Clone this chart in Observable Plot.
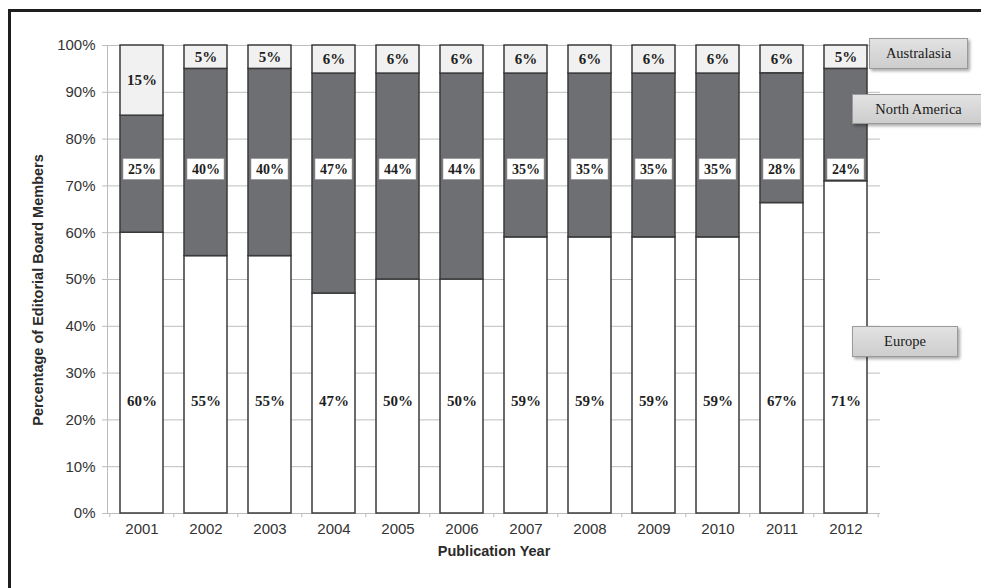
<!DOCTYPE html>
<html><head><meta charset="utf-8">
<script src="https://cdn.jsdelivr.net/npm/d3@7"></script>
<script src="https://cdn.jsdelivr.net/npm/@observablehq/plot@0.6"></script>
<style>
body{margin:0;background:#fff;}
#wrap{position:relative;width:981px;height:588px;overflow:hidden;background:#fff;}
#chart{position:absolute;left:0;top:0;}
.frame-top{position:absolute;left:8px;top:9px;width:990px;height:3px;background:#1e1e1e;}
.frame-left{position:absolute;left:8px;top:9px;width:3px;height:600px;background:#1e1e1e;}
.leg{position:absolute;box-sizing:border-box;border:1px solid #9a9a9a;background:linear-gradient(#e2e2e2,#cdcdcd);box-shadow:2px 2px 3px rgba(0,0,0,0.35);font-family:"Liberation Serif","Times New Roman",serif;font-size:14.5px;color:#1a1a1a;display:flex;align-items:center;justify-content:center;}
.ylab{position:absolute;left:38px;top:290px;transform:translate(-50%,-50%) rotate(-90deg);white-space:nowrap;font-family:"Liberation Sans",Arial,sans-serif;font-weight:bold;font-size:14.5px;color:#2a2a2a;}
</style>
</head><body>
<div id="wrap">
  <div id="chart"></div>
  <div class="frame-top"></div>
  <div class="frame-left"></div>
  <div class="ylab" id="ylab"></div>
  <div class="leg" style="left:869px;top:38px;width:99px;height:31px;">Australasia</div>
  <div class="leg" style="left:852px;top:94px;width:133px;height:30px;">North America</div>
  <div class="leg" style="left:852px;top:326px;width:106px;height:31px;">Europe</div>
</div>
<script>
const years = ["2001","2002","2003","2004","2005","2006","2007","2008","2009","2010","2011","2012"];
const europe = [60,55,55,47,50,50,59,59,59,59,67,71];
const northAmerica = [25,40,40,47,44,44,35,35,35,35,28,24];
const australasia = [15,5,5,6,6,6,6,6,6,6,6,5];
const regions = ["Europe","North America","Australasia"];
const regionColors = ["#ffffff","#6e6f72","#f1f1f1"];
const yTicks = [0,10,20,30,40,50,60,70,80,90,100];
const yLabel = "Percentage of Editorial Board Members";
const xLabel = "Publication Year";

document.getElementById("ylab").textContent = yLabel;

const series = {"Europe": europe, "North America": northAmerica, "Australasia": australasia};
const rows = years.flatMap((year, i) => regions.map(region => ({year, region, value: series[region][i]})));
const naRows = rows.filter(d => d.region === "North America");
const euRows = rows.filter(d => d.region === "Europe");

const labelFont = {fontFamily: "Liberation Serif, Times New Roman, serif", fontWeight: "bold", fontSize: 15, fill: "#1e1e1e"};

const chart = Plot.plot({
  width: 981,
  height: 588,
  marginLeft: 107,
  marginRight: 101,
  marginTop: 45,
  marginBottom: 75,
  style: {fontFamily: "Liberation Sans, Arial, sans-serif", fontSize: "15px", color: "#333", background: "transparent"},
  x: {domain: years, paddingInner: 0.333, paddingOuter: 0.1667},
  y: {domain: [0, 1]},
  color: {domain: regions, range: regionColors},
  marks: [
    Plot.gridY(yTicks.map(v => v / 100), {stroke: "#bdbdbd", strokeOpacity: 1}),
    Plot.frame({anchor: "left", stroke: "#bdbdbd"}),
    Plot.ruleX(years, {x: d => d, dx: -32.2, y1: 0, y2: -0.009, stroke: "#bdbdbd"}),
    Plot.ruleX(years.slice(-1), {x: d => d, dx: 32.2, y1: 0, y2: -0.009, stroke: "#bdbdbd"}),
    Plot.axisY(yTicks.map(v => v / 100), {tickFormat: d => Math.round(d * 100) + "%", tickSize: 5, tickPadding: 7, stroke: "#bdbdbd", fontSize: 15, label: null}),
    Plot.axisX({tickSize: 0, tickPadding: 10, fontSize: 15, label: null}),
    Plot.barY(rows, Plot.stackY({x: "year", y: "value", z: "region", order: regions, offset: "normalize", fill: "region", stroke: "#3a3a3a", strokeWidth: 1.5})),
    Plot.text(euRows, {x: "year", y: d => 0.24, text: d => d.value + "%", ...labelFont}),
    Plot.barY(naRows, {x: "year", y1: d => 0.713, y2: d => 0.757, insetLeft: 3, insetRight: 3, fill: "#ffffff", stroke: "#a0a0a0", strokeWidth: 0.6}),
    Plot.text(naRows, {x: "year", y: d => 0.735, text: d => d.value + "%", ...labelFont, fontSize: 14}),
    Plot.text(rows, Plot.stackY({x: "year", y: "value", z: "region", order: regions, offset: "normalize", text: d => d.region === "Australasia" ? d.value + "%" : "", ...labelFont})),
    Plot.text([xLabel], {frameAnchor: "bottom", dy: 38, fontWeight: "bold", fontSize: 14.5, fill: "#2a2a2a", lineAnchor: "middle"})
  ]
});
document.getElementById("chart").appendChild(chart);
</script>
</body></html>
